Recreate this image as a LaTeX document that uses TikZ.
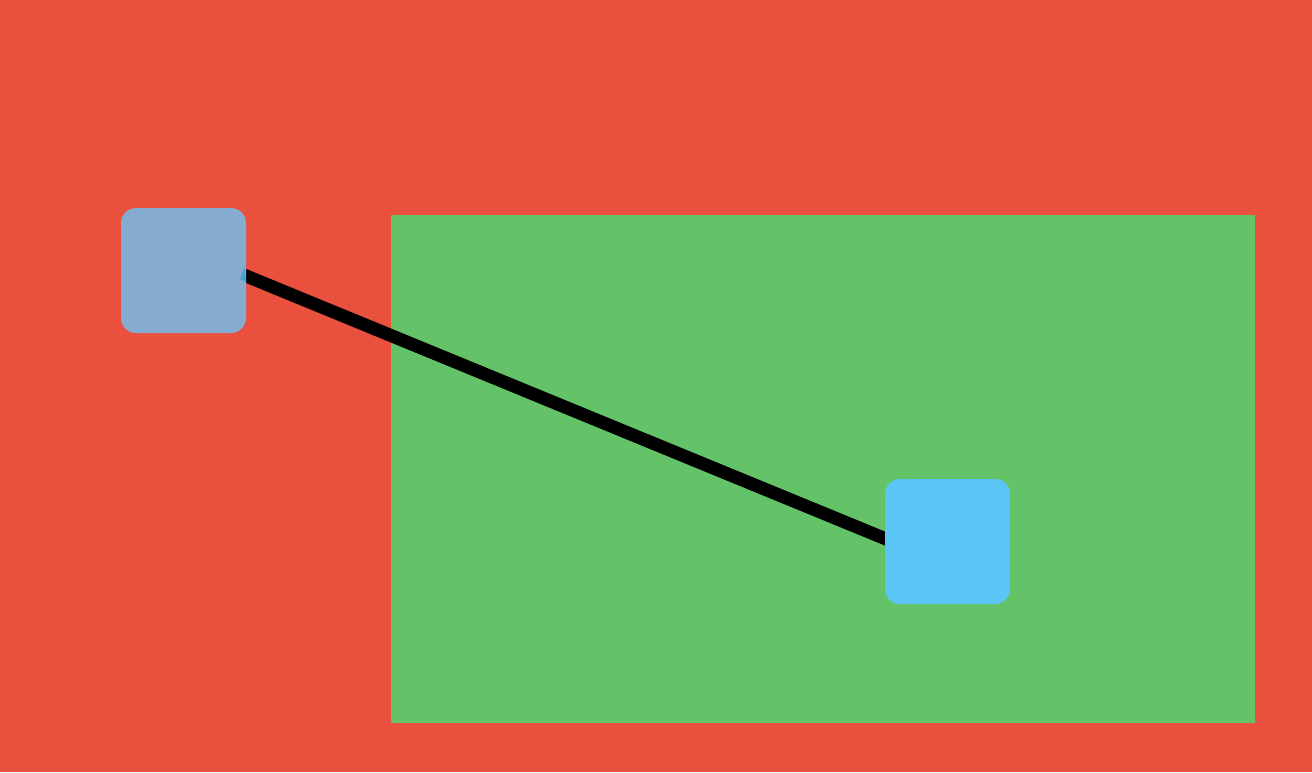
\documentclass[tikz,border=0pt]{standalone}
\pgfdeclarelayer{bottom}
\pgfdeclarelayer{mid}
\pgfsetlayers{bottom,mid,main}
\begin{document}
\begin{tikzpicture}[x=1pt,y=-1pt,
  boxnode/.style={minimum width=125pt,minimum height=125pt,inner sep=0pt,rounded corners=15pt,draw=none},
  link/.style={line width=13pt,black,line cap=butt}]
\definecolor{redbg}{HTML}{E9503E}
\definecolor{greenbg}{HTML}{64C368}
\definecolor{boxa}{HTML}{85ABCE}
\definecolor{boxb}{HTML}{5BC5F5}
\definecolor{tipblue}{HTML}{4A9FCC}
\begin{pgfonlayer}{bottom}
\fill[redbg] (0,0) rectangle (1312,772);
\fill[greenbg] (391,215) rectangle (1255,723);
\end{pgfonlayer}
\useasboundingbox (0,0) rectangle (1312,772);
\node[boxnode,fill=boxa] (a) at (183.5,270.5) {};
\node[boxnode,fill=boxb] (b) at (947.5,541.5) {};
\begin{pgfonlayer}{mid}
\draw[link] ([shift={(-10pt,-1.4pt)}]a.east) -- ([shift={(10pt,-1.1pt)}]b.west);
\end{pgfonlayer}
\fill[tipblue] ([shift={(-2pt,3.5pt)}]a.east) -- ([shift={(-6pt,-8.5pt)}]a.east) -- ([shift={(0pt,-11.5pt)}]a.east) -- cycle;
\end{tikzpicture}
\end{document}
